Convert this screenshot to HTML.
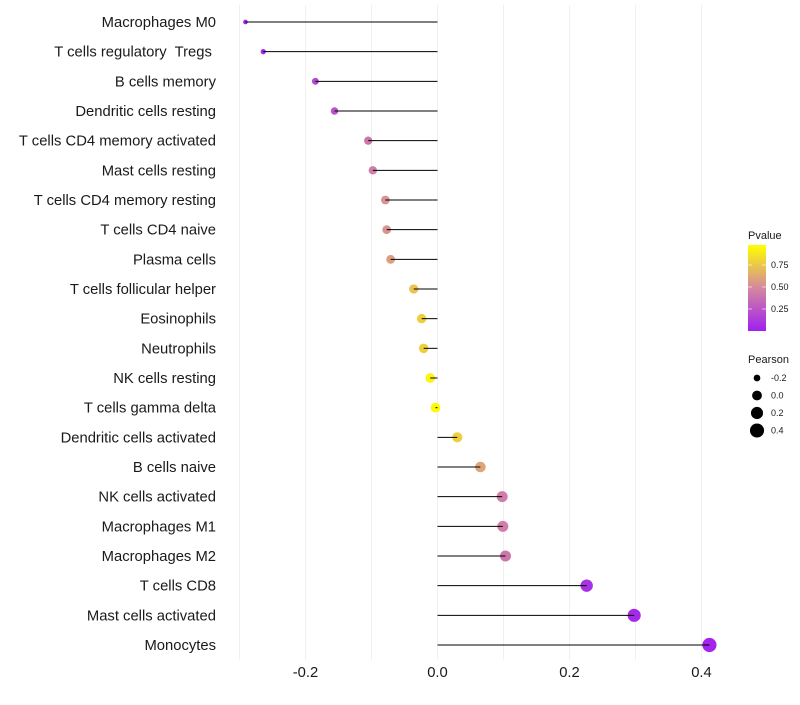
<!DOCTYPE html>
<html><head><meta charset="utf-8"><style>
body{margin:0;background:#fff;font-family:"Liberation Sans",Arial,sans-serif}
text{white-space:pre}
</style></head><body>
<svg id="chart" width="800" height="700" xmlns="http://www.w3.org/2000/svg">
<defs><linearGradient id="pg" x1="0" y1="1" x2="0" y2="0">
<stop offset="0" stop-color="#a020f0"/><stop offset="0.5" stop-color="#d4889f"/><stop offset="1" stop-color="#ffff00"/></linearGradient></defs>
<g id="grid"></g>
<g id="marks"></g>
<g id="ylabels" font-size="14.8" fill="#1a1a1a" text-anchor="end"></g>
<g id="xlabels" font-size="14.8" fill="#1a1a1a" text-anchor="middle"></g>
<g>
<text x="748" y="239" font-size="11" fill="#1a1a1a">Pvalue</text>
<rect x="748" y="245" width="18" height="86" fill="url(#pg)"/>
<g id="cbticks" font-size="9" fill="#1a1a1a"></g>
</g>
<g id="sizeleg">
<text x="748" y="363" font-size="11" fill="#1a1a1a">Pearson</text>
</g>
</svg>
<script>
const categories=["Macrophages M0","T cells regulatory  Tregs ","B cells memory","Dendritic cells resting","T cells CD4 memory activated","Mast cells resting","T cells CD4 memory resting","T cells CD4 naive","Plasma cells","T cells follicular helper","Eosinophils","Neutrophils","NK cells resting","T cells gamma delta","Dendritic cells activated","B cells naive","NK cells activated","Macrophages M1","Macrophages M2","T cells CD8","Mast cells activated","Monocytes"];
const pearson=[-0.291,-0.264,-0.185,-0.156,-0.105,-0.098,-0.079,-0.077,-0.071,-0.036,-0.024,-0.021,-0.011,-0.003,0.030,0.065,0.098,0.099,0.103,0.226,0.298,0.412];
const pvalue=[0.02,0.05,0.2,0.25,0.42,0.45,0.55,0.55,0.6,0.75,0.8,0.8,0.95,0.98,0.8,0.62,0.45,0.45,0.42,0.08,0.05,0.02];
const xTicks=[-0.2,0.0,0.2,0.4];
const xTickLabels=["-0.2","0.0","0.2","0.4"];
const xGrid=[-0.3,-0.2,-0.1,0.0,0.1,0.2,0.3,0.4];
const cbTicks=[0.25,0.5,0.75];
const cbTickLabels=["0.25","0.50","0.75"];
const sizeLegend=[-0.2,0.0,0.2,0.4];
const sizeLegendLabels=["-0.2","0.0","0.2","0.4"];

const NS="http://www.w3.org/2000/svg";
const x=v=>437.5+v*660;
const y=i=>22+i*(623/21);
const r=v=>Math.sqrt(Math.max(1,24+64*v));
function lerp(a,b,t){return a.map((c,k)=>Math.round(c+(b[k]-c)*t));}
function col(p){const A=[160,32,240],B=[212,136,159],C=[255,255,0];
 const c=p<0.5?lerp(A,B,p/0.5):lerp(B,C,(p-0.5)/0.5);return `rgb(${c})`;}
function mk(tag,attrs,parent){const e=document.createElementNS(NS,tag);for(const k in attrs)e.setAttribute(k,attrs[k]);parent.appendChild(e);return e;}
const grid=document.getElementById('grid'),marks=document.getElementById('marks');
xGrid.forEach(v=>{const l=mk('line',{x1:x(v),x2:x(v),y1:5,y2:660,stroke:'#f0f0f0','stroke-width':1},grid);

});
categories.forEach((c,i)=>{
 const d=mk('circle',{cx:x(pearson[i]),cy:y(i),r:r(pearson[i]),fill:col(pvalue[i])},marks);
 
 
 const l=mk('line',{x1:x(0),x2:x(pearson[i]),y1:y(i),y2:y(i),stroke:'#000','stroke-width':1},marks);
 
 
 const t=mk('text',{x:216,y:y(i)+5},document.getElementById('ylabels'));t.textContent=c;
 
 
});
xTicks.forEach((v,i)=>{const t=mk('text',{x:x(v),y:677},document.getElementById('xlabels'));t.textContent=xTickLabels[i];

});
const cb=document.getElementById('cbticks');
cbTicks.forEach((v,i)=>{const yy=331-v*88;
 mk('line',{x1:748,x2:752,y1:yy,y2:yy,stroke:'#fff','stroke-width':0.6},cb);
 mk('line',{x1:762,x2:766,y1:yy,y2:yy,stroke:'#fff','stroke-width':0.6},cb);
 const t=mk('text',{x:771,y:yy+3},cb);t.textContent=cbTickLabels[i];
 
 });
const sl=document.getElementById('sizeleg');
sizeLegend.forEach((v,i)=>{const yy=378+i*17.5;
 const c=mk('circle',{cx:757,cy:yy,r:r(v),fill:'#000'},sl);
 
 
 const t=mk('text',{x:771,y:yy+3,'font-size':9,fill:'#1a1a1a'},sl);t.textContent=sizeLegendLabels[i];
 
 });
</script>
</body></html>
